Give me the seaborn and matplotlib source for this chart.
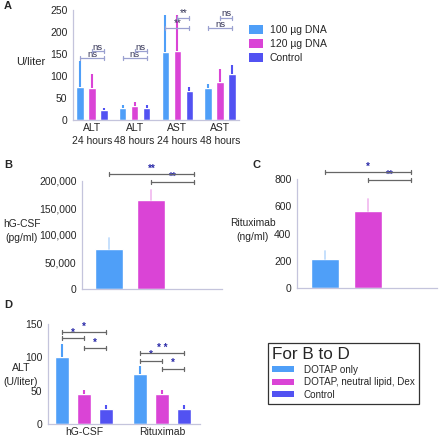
import numpy as np
import pandas as pd
import matplotlib
matplotlib.use("Agg")
import matplotlib.pyplot as plt
import seaborn as sns
from matplotlib.patches import Patch

# ---------------- data ----------------
a_groups = ["ALT\n24 hours", "ALT\n48 hours", "AST\n24 hours", "AST\n48 hours"]
a_series = ["100 \u00b5g DNA", "120 \u00b5g DNA", "Control"]
a_100 = [75, 27, 155, 73]
a_120 = [73, 32, 157, 87]
a_ctrl = [22, 27, 65, 105]
a_100_sd = [60, 6, 83, 8]
a_120_sd = [32, 9, 81, 28]
a_ctrl_sd = [6, 7, 10, 19]

bd_series = ["DOTAP only", "DOTAP, neutral lipid, Dex", "Control"]
b_vals = [75000, 165000, 0]
b_sd = [20000, 18000, 0]
c_vals = [210, 565, 0]
c_sd = [62, 85, 0]

d_groups = ["hG-CSF", "Rituximab"]
d_dotap = [100, 75]
d_dex = [45, 45]
d_ctrl = [23, 23]
d_dotap_sd = [20, 12]
d_dex_sd = [6, 6]
d_ctrl_sd = [6, 6]

colors = ["#4F9FF8", "#DA44D6", "#5252F2"]

# ---------------- style ----------------
sns.set_style("white")
plt.rcParams["font.family"] = ["Liberation Sans", "DejaVu Sans"]
FS = 7.5
SPINE = "#c4c4dc"
BR_A = "#9aa0d0"
BR = "#666666"
STAR = "#2a2aa8"

fig = plt.figure(figsize=(4.4, 4.37), dpi=100)


def style_axes(ax, xticks=False):
    sns.despine(ax=ax)
    for s in ("left", "bottom"):
        ax.spines[s].set_color(SPINE)
        ax.spines[s].set_linewidth(0.9)
    ax.tick_params(axis="y", length=2, width=0.6, color=SPINE, labelsize=FS, pad=2)
    ax.tick_params(axis="x", length=2 if xticks else 0, width=0.6, color=SPINE,
                   labelsize=FS, pad=2)
    ax.set_xlabel("")
    ax.set_ylabel("")


def bar_centers(ax):
    out = []
    for cont in ax.containers:
        out.append([p.get_x() + p.get_width() / 2 for p in cont])
    return out


def draw_err(ax, centers, vals, sds, cols, lw=1.5, alpha=1.0):
    for k in range(len(vals)):
        for i in range(len(vals[k])):
            if sds[k][i] > 0:
                ax.plot([centers[k][i], centers[k][i]], [vals[k][i], vals[k][i] + sds[k][i]],
                        color=cols[k], lw=lw, alpha=alpha, solid_capstyle="butt",
                        zorder=1)


def bracket(ax, x1, x2, y, label, lcol, tcol, fs, tick=2.0, tpad=0.5, weight="normal"):
    ylo, yhi = ax.get_ylim()
    hpx = ax.get_position().height * fig.get_figheight() * fig.dpi
    dy = tick * (yhi - ylo) / hpx
    kw = dict(color=lcol, lw=0.9, clip_on=False, zorder=5)
    ax.plot([x1, x2], [y, y], **kw)
    ax.plot([x1, x1], [y - dy, y + dy], **kw)
    ax.plot([x2, x2], [y - dy, y + dy], **kw)
    ax.text((x1 + x2) / 2, y + tpad * (yhi - ylo) / hpx, label, ha="center", va="bottom",
            fontsize=fs, color=tcol, clip_on=False, fontweight=weight)


# ---------------- Panel A ----------------
axA = fig.add_axes([73 / 440, 1 - 120 / 437, 166 / 440, 110 / 437])
dfA = pd.DataFrame({
    "group": a_groups * 3,
    "series": sum([[s] * 4 for s in a_series], []),
    "value": a_100 + a_120 + a_ctrl,
})
sns.barplot(data=dfA, x="group", y="value", hue="series", palette=colors,
            width=0.84, gap=0.375, errorbar=None, legend=False, ax=axA,
            saturation=1)
axA.set_ylim(0, 250)
axA.set_xlim(-0.445, 3.445)
axA.set_yticks([0, 50, 100, 150, 200, 250])
style_axes(axA)
axA.set_xticklabels(a_groups, linespacing=1.45)
cA = bar_centers(axA)
draw_err(axA, cA, [a_100, a_120, a_ctrl], [a_100_sd, a_120_sd, a_ctrl_sd], colors)
for g, ylo, yhi, lab in [(0, 140, 156, "ns"), (1, 140, 156, "ns"),
                         (2, 209, 232, "**"), (3, 209, 232, "ns")]:
    fsz = 6.8 if lab == "ns" else 7
    bracket(axA, cA[0][g], cA[2][g], ylo, lab, BR_A, "#333355", fsz, tpad=-0.5)
    bracket(axA, cA[1][g], cA[2][g], yhi, lab, BR_A, "#333355", fsz, tpad=-0.5)

fig.text(31 / 440, 1 - 62 / 437, "U/liter", ha="center", va="center", fontsize=8)
axA.legend(handles=[Patch(facecolor=c, edgecolor="none", label=l) for c, l in zip(colors, a_series)],
           loc="upper left", bbox_to_anchor=(249 / 440, 1 - 25 / 437),
           bbox_transform=fig.transFigure, frameon=False, fontsize=FS,
           handlelength=1.3, handleheight=0.9, handletextpad=0.7, labelspacing=0.4,
           borderaxespad=0, borderpad=0)

# ---------------- Panel B ----------------
axB = fig.add_axes([82 / 440, 1 - 289 / 437, 140 / 440, 108 / 437])
sns.barplot(x=bd_series, y=b_vals, hue=bd_series, palette=colors, width=0.66,
            errorbar=None, legend=False, ax=axB, saturation=1)
axB.set_ylim(0, 200000)
axB.set_xlim(-0.635, 2.66)
axB.set_yticks([0, 50000, 100000, 150000, 200000])
axB.set_yticklabels(["0", "50,000", "100,000", "150,000", "200,000"])
style_axes(axB, xticks=True)
axB.set_xticks([0, 1, 2])
axB.set_xticklabels([])
for i in range(2):
    axB.plot([i, i], [b_vals[i], b_vals[i] + b_sd[i]], color=colors[i], lw=1.3, alpha=0.35)
bracket(axB, 0, 2, 213000, "**", BR, STAR, 7, weight="bold")
bracket(axB, 1, 2, 198000, "**", BR, STAR, 7, weight="bold")
fig.text(22 / 440, 1 - 231 / 437, "hG-CSF\n(pg/ml)", ha="center", va="center",
         fontsize=7.4, linespacing=1.5)

# ---------------- Panel C ----------------
axC = fig.add_axes([297 / 440, 1 - 288 / 437, 140 / 440, 109 / 437])
sns.barplot(x=bd_series, y=c_vals, hue=bd_series, palette=colors, width=0.66,
            errorbar=None, legend=False, ax=axC, saturation=1)
axC.set_ylim(0, 800)
axC.set_xlim(-0.65, 2.6)
axC.set_yticks([0, 200, 400, 600, 800])
style_axes(axC, xticks=True)
axC.set_xticks([0, 1, 2])
axC.set_xticklabels([])
for i in range(2):
    axC.plot([i, i], [c_vals[i], c_vals[i] + c_sd[i]], color=colors[i], lw=1.3, alpha=0.35)
bracket(axC, 0, 2, 851, "*", BR, STAR, 7, weight="bold")
bracket(axC, 1, 2, 793, "**", BR, STAR, 7, weight="bold")
fig.text(253 / 440, 1 - 230 / 437, "Rituximab\n(ng/ml)", ha="center", va="center",
         fontsize=7.4, linespacing=1.6)

# ---------------- Panel D ----------------
axD = fig.add_axes([48 / 440, 1 - 424 / 437, 152 / 440, 100 / 437])
dfD = pd.DataFrame({
    "group": d_groups * 3,
    "series": sum([[s] * 2 for s in bd_series], []),
    "value": d_dotap + d_dex + d_ctrl,
})
sns.barplot(data=dfD, x="group", y="value", hue="series", palette=colors,
            width=0.83, gap=0.35, errorbar=None, legend=False, ax=axD, saturation=1)
axD.set_ylim(0, 150)
axD.set_xlim(-0.4615, 1.487)
axD.set_yticks([0, 50, 100, 150])
style_axes(axD)
cD = bar_centers(axD)
draw_err(axD, cD, [d_dotap, d_dex, d_ctrl], [d_dotap_sd, d_dex_sd, d_ctrl_sd], colors)
for g, (y13, y12, y23, l13) in enumerate([(138, 129, 114, "*"), (106, 95, 83, "* *")]):
    bracket(axD, cD[0][g], cD[2][g], y13, l13, BR, STAR, 7, weight="bold")
    bracket(axD, cD[0][g], cD[1][g], y12, "*", BR, STAR, 7, weight="bold")
    bracket(axD, cD[1][g], cD[2][g], y23, "*", BR, STAR, 7, weight="bold")
fig.text(21 / 440, 1 - 375 / 437, "ALT\n(U/liter)", ha="center", va="center",
         fontsize=7.6, linespacing=1.5)

leg = fig.legend(handles=[Patch(facecolor=c, edgecolor="none", label=l) for c, l in zip(colors, bd_series)],
                 loc="upper left", bbox_to_anchor=(263 / 440, 1 - 338 / 437),
                 title="For B to D", title_fontsize=12.3, fontsize=7.1,
                 frameon=True, fancybox=False, edgecolor="black",
                 handlelength=2.2, handleheight=0.6, handletextpad=1.0,
                 labelspacing=0.25, borderpad=0.45, alignment="left")
leg.get_frame().set_linewidth(0.9)

# ---------------- panel letters ----------------
for x, y, t in [(4, 6, "A"), (4, 165, "B"), (252, 165, "C"), (4, 305, "D")]:
    fig.text(x / 440, 1 - y / 437, t, fontsize=8, fontweight="bold", va="center", ha="left")

fig.savefig("out.png", dpi=100)
